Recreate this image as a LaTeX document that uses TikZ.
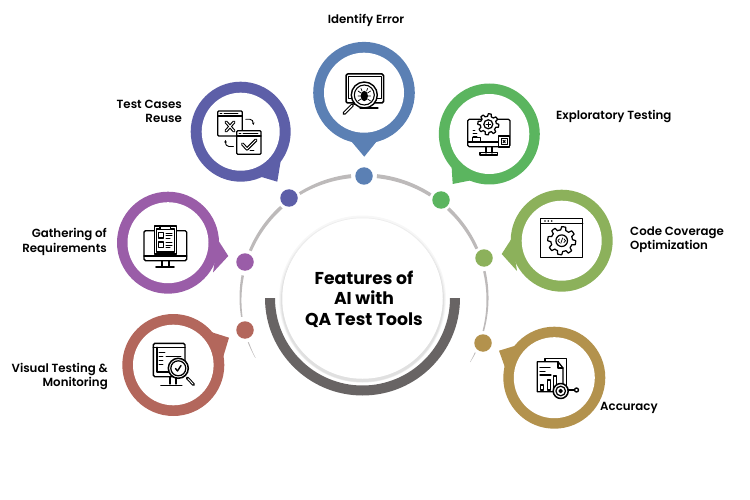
\documentclass[tikz,border=0pt]{standalone}
\usepackage{fontspec}
\usetikzlibrary{arrows.meta}
\setmainfont{Poppins}
\newfontfamily\labelfont{Poppins SemiBold}
\newfontfamily\titlefont{Poppins}[UprightFont=*-Bold]
\definecolor{cblue}{HTML}{5B80B4}
\definecolor{cindigo}{HTML}{5D5FA8}
\definecolor{cgreen}{HTML}{5BB55F}
\definecolor{clime}{HTML}{8CB15B}
\definecolor{cgold}{HTML}{B3924D}
\definecolor{cpurple}{HTML}{9A5DA8}
\definecolor{cred}{HTML}{B3675C}
\definecolor{cdark}{HTML}{686464}
\definecolor{cring}{HTML}{BDBABA}
\newcommand{\ringseg}[4]{%
  \fill[cring] plot[domain=#1:#2,samples=24] ({364+(123.5+0.5*(#3+(#4-#3)*(\x-#1)/(#2-#1)))*cos(\x)},{299+(123.5+0.5*(#3+(#4-#3)*(\x-#1)/(#2-#1)))*sin(\x)})
  -- plot[domain=#2:#1,samples=24] ({364+(123.5-0.5*(#3+(#4-#3)*(\x-#1)/(#2-#1)))*cos(\x)},{299+(123.5-0.5*(#3+(#4-#3)*(\x-#1)/(#2-#1)))*sin(\x)}) -- cycle;}
\newcommand{\callout}[9]{%
  \node[disc,fill=#2,minimum size=#5*2pt] (#1) at (#3,#4) {};
  \fill[#2] (#7) -- (#8) -- (#9) -- cycle;
  \node[disc,fill=white,minimum size=#6*2pt] (#1in) at (#3,#4) {};}
\newcommand{\gearicon}[5]{%
  \draw[icon,fill=white] plot[domain=0:360,samples=#5*8+1] ({#1+(#4+(#3-#4)*(sin(#5*\x+10)>0))*cos(\x)},{#2+(#4+(#3-#4)*(sin(#5*\x+10)>0))*sin(\x)}) -- cycle;}
\tikzset{
  x=1pt,y=-1pt,
  disc/.style={circle,inner sep=0pt,outer sep=0pt},
  dotnode/.style={disc,minimum size=17.5pt},
  icon/.style={draw=black,line width=1.25pt,line join=round,line cap=round},
  thick icon/.style={draw=black,line width=2.2pt,line cap=round},
  lab/.style={font=\labelfont\fontsize{11.8pt}{14.5pt}\selectfont,text=black,inner sep=0pt},
}
\begin{document}
\begin{tikzpicture}
\useasboundingbox (0,0) rectangle (750,500);
% ring
\ringseg{238.6}{264}{3}{4}
\ringseg{276}{302.6}{4}{3.5}
\ringseg{313}{336}{3.5}{3}
\ringseg{347}{375}{2.5}{1.5}
\ringseg{385.7}{390.7}{0.9}{0.3}
\ringseg{203}{228}{3}{3.5}
\ringseg{171.7}{191}{1.5}{2.5}
\ringseg{151.6}{159.5}{0.3}{1}
% centre
\fill[cdark] (460,298) arc (0:180:97.5) -- (275,298) arc (180:0:87.5) -- cycle;
\fill[black!3] (362.5,299) circle (83.5);
\fill[black!7] (362.5,300) circle (82.5);
\fill[black!12] (362.5,300.5) circle (81.5);
\node[disc,fill=white,minimum size=160.5pt] (hub) at (362.5,298.5) {};
\node[font=\titlefont\fontsize{17.2pt}{20.5pt}\selectfont,align=center,inner sep=0pt] (title) at (364,299) {Features of\\AI with\\QA Test Tools};
% dots
\node[dotnode,fill=cblue] (d1) at (364,176) {};
\node[dotnode,fill=cgreen] (d2) at (441,200) {};
\node[dotnode,fill=clime] (d3) at (484,258) {};
\node[dotnode,fill=cgold] (d4) at (483,343) {};
\node[dotnode,fill=cred] (d5) at (245,330) {};
\node[dotnode,fill=cpurple] (d6) at (245,262) {};
\node[dotnode,fill=cindigo] (d7) at (289,198) {};
% callouts
\coordinate (t1) at (364.3,156.7); \coordinate (a1) at (351,141); \coordinate (b1) at (377,141);
\coordinate (t2) at (452.7,184); \coordinate (a2) at (470,180.5); \coordinate (b2) at (451.5,165);
\coordinate (t3) at (501.7,254); \coordinate (a3) at (512,238); \coordinate (b3) at (517,271);
\coordinate (t4) at (499,350.7); \coordinate (a4) at (516,345.5); \coordinate (b4) at (505,367.5);
\coordinate (t5) at (229,337.7); \coordinate (a5) at (211,332); \coordinate (b5) at (223,357.5);
\coordinate (t6) at (228.3,256); \coordinate (a6) at (218,240); \coordinate (b6) at (213,272.5);
\coordinate (t7) at (277.3,181.7); \coordinate (a7) at (260,176.5); \coordinate (b7) at (280.5,162);
\callout{c1}{cblue}{364}{92.7}{50.8}{40}{t1}{a1}{b1}
\callout{c2}{cgreen}{489.3}{134}{50.5}{40}{t2}{a2}{b2}
\callout{c3}{clime}{561.7}{240.7}{51}{40}{t3}{a3}{b3}
\callout{c4}{cgold}{554.3}{377.7}{51}{40.5}{t4}{a4}{b4}
\callout{c5}{cred}{173.3}{365}{51}{40.3}{t5}{a5}{b5}
\callout{c6}{cpurple}{168}{242.7}{51}{40.5}{t6}{a6}{b6}
\callout{c7}{cindigo}{240.7}{131.7}{50}{39}{t7}{a7}{b7}
% labels
\node[lab] (l1) at (366,20.5) {Identify Error};
\node[lab,anchor=west] (l2) at (556,116.5) {Exploratory Testing};
\node[lab,anchor=west,align=left] (l3) at (630,239.5) {Code Coverage\\Optimization};
\node[lab,anchor=west] (l4) at (600,407.5) {Accuracy};
\node[lab,anchor=east,align=right] (l5) at (108,376.5) {Visual Testing \&\\Monitoring};
\node[lab,anchor=east,align=right] (l6) at (107,242) {Gathering of\\Requirements};
\node[lab,anchor=east,align=right] (l7) at (182,111.5) {Test Cases\\Reuse};
% icon 1: bug monitor
\draw[icon,line width=1.5pt,rounded corners=1.5pt] (346,74) rectangle (383.5,103);
\draw[icon] (348.7,76.7) rectangle (381.3,98.3);
\draw[icon] (364,104) -- (364,107);
\draw[thick icon,line width=1.3pt] (360,108) -- (378,108);
\draw[icon,fill=white,line width=1.4pt] (364.3,95) circle (13);
\draw[icon,line width=1.1pt] (364.3,95) circle (10);
\draw[icon,fill=black] (364.3,96) ellipse (3 and 4.5);
\draw[icon,line width=.7pt] (358,91) -- (361,93) (358,96) -- (361,96) (358,101) -- (361,99) (370.6,91) -- (367.6,93) (370.6,96) -- (367.6,96) (370.6,101) -- (367.6,99) (362,91) -- (361,88.5) (366.6,91) -- (367.6,88.5);
\draw[icon] (354.5,104.5) -- (353,103);
\draw[thick icon,line width=3.2pt] (352.5,105) -- (344,113.5);
\draw[white,line width=1.2pt,line cap=round] (352,105.5) -- (344.5,113);
% icon 2: gear monitor
\draw[icon,rounded corners=1.5pt] (467.7,119.3) rectangle (510,146.7);
\draw[icon] (467.7,142) -- (499,142);
\draw[icon] (486,146.7) -- (486,153) (492,146.7) -- (492,153);
\draw[icon] (480,155) -- (497.3,155) -- (497.3,152.5) -- (480,152.5) -- cycle;
\gearicon{488.3}{124.3}{10.5}{8}{8}
\draw[icon] (488.3,124.3) circle (4.5);
\draw[icon,line width=.8pt] (488.3,122) -- (488.3,127) (486,124.3) -- (490.6,124.3);
\draw[icon,line width=.8pt] (473,130) -- (475,130) (473,133.5) -- (477,133.5) (473,136) -- (477,136);
\draw[icon,line width=.8pt] (472.7,137.7) rectangle (480.7,141);
\draw[icon,fill=white] (498.5,136) rectangle (509.8,147);
\draw[icon,line width=.7pt] (501,138.5) rectangle (507.3,144.5);
\draw[icon,line width=.9pt] (503,140.3) -- (505.3,142.7) (505.3,140.3) -- (503,142.7);
% icon 3: code gear window
\draw[icon,line width=1.4pt] (540.7,218.3) rectangle (582.7,257.3);
\draw[icon] (540.7,223.3) -- (582.7,223.3);
\fill (545,221) circle (.9) (548.3,221) circle (.9) (551.7,221) circle (.9);
\gearicon{561.7}{240.7}{14}{10.8}{8}
\draw[icon] (561.7,240.7) circle (5.8);
\draw[icon,line width=.7pt] (559.5,238.8) -- (557.9,240.7) -- (559.5,242.6) (563.9,238.8) -- (565.5,240.7) -- (563.9,242.6) (562.6,238) -- (560.8,243.4);
% icon 4: report target
\draw[icon] (545,361.5) -- (545,358.3) -- (566.7,358.3) -- (566.7,385);
\draw[icon,fill=white] (537.3,361.7) -- (558,361.7) -- (563,368) -- (563,391.7) -- (537.3,391.7) -- cycle;
\draw[icon] (558,361.7) -- (558,368) -- (563,368);
\draw[icon] (540,367.5) -- (550,367.5) (540,371.5) -- (545,371.5) (540,375) -- (551,375);
\draw[icon] (540.5,385) rectangle (543.5,390) (547.5,380) rectangle (550.5,390) (553.5,376) rectangle (556.5,390);
\draw[icon,fill=white,line width=1.5pt] (560.7,391) circle (7.5);
\draw[icon] (560.7,391) circle (4.8);
\draw[icon,fill=black] (560.7,391) circle (1.6);
\draw[icon] (568,390) -- (574,390);
\draw[icon,line width=1.4pt] (576.5,390) circle (2);
% icon 5: magnifier monitor
\draw[icon,line width=1.4pt,rounded corners=1.5pt] (153.3,343.3) rectangle (185,376.7);
\draw[icon] (153.3,347.3) -- (185,347.3) (157,347.3) -- (157,372) -- (181,372) ;
\draw[icon,line width=.8pt] (159,352) -- (165,352) (159,356) -- (163,356) (159,360) -- (163,360) (159,364) -- (163,364) (166,356) -- (181,356);
\draw[icon,line width=1.3pt] (170,376.7) -- (170,384) (176,376.7) -- (176,384);
\draw[thick icon,line width=1.8pt] (161,385.5) -- (181.7,385.5);
\draw[icon,fill=white,line width=1.5pt] (178.3,368.3) circle (10);
\draw[icon] (178.3,368.3) circle (7.5);
\draw[icon,line width=1.4pt] (175.5,368.5) -- (177.5,371) -- (181,365.5);
\draw[thick icon,line width=3pt] (187.3,378) -- (193.5,384.5);
\draw[white,line width=.9pt,line cap=round] (188,378.7) -- (193,384);
% icon 6: clipboard monitor
\draw[icon,line width=1.4pt,rounded corners=1.5pt] (144,230.7) rectangle (186.7,260.7);
\draw[icon] (144,256) -- (186.7,256);
\draw[icon,line width=1.3pt] (162,260.7) -- (162,266) (169,260.7) -- (169,266);
\draw[thick icon,line width=1.8pt] (156,267) -- (174,267);
\draw[icon,fill=white,line width=1.6pt] (154.5,226) rectangle (176.5,254);
\draw[icon,line width=1.4pt] (156.5,229) rectangle (174.5,252);
\draw[icon,fill=white] (160,226) rectangle (170.5,229.7);
\draw[icon] (158.5,232.5) rectangle (163.5,238) (158.5,242) rectangle (163.5,247.5);
\draw[icon,line width=1pt] (166,233) -- (172,233) (166,235.5) -- (172,235.5) (166,238) -- (170,238) (166,242.5) -- (172,242.5) (166,245) -- (172,245) (166,247.5) -- (170,247.5);
% icon 7: windows
\draw[icon,rounded corners=1pt] (217.7,111) rectangle (242.3,136);
\draw[icon] (217.7,116) -- (242.3,116);
\draw[icon,line width=.9pt] (220,113.5) -- (222,113.5) (224,113.5) -- (238,113.5);
\draw[icon,line width=3.2pt] (226,122) -- (234,131) (234,122) -- (226,131);
\draw[white,line width=1pt,line cap=round] (226,122) -- (234,131) (234,122) -- (226,131);
\draw[icon,fill=white,rounded corners=1pt] (236.7,130.7) rectangle (261,154.3);
\draw[icon] (236.7,136) -- (261,136);
\draw[icon,line width=.9pt] (239,133.5) -- (241,133.5) (243,133.5) -- (258,133.5);
\draw[icon,line width=3.2pt] (242.5,144) -- (247,149) -- (256,140);
\draw[white,line width=1pt,line cap=round,line join=round] (242.5,144) -- (247,149) -- (256,140);
\draw[icon,line width=.8pt] (250,150.5) -- (254,150.5);
\draw[icon,line width=.9pt,-{Stealth[length=2.5pt,width=2.5pt]}] (245.7,119.3) -- (250,119.3) .. controls (252,119.3) and (253.3,121) .. (253.3,125);
\draw[icon,line width=.9pt,-{Stealth[length=2.5pt,width=2.5pt]}] (233.3,146.5) -- (229,146.5) .. controls (227,146.5) and (225.5,145) .. (225.5,140);
\end{tikzpicture}
\end{document}
